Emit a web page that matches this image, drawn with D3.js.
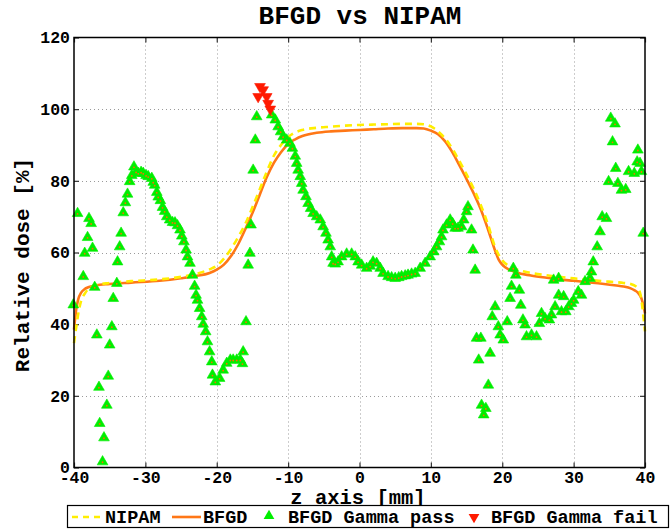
<!DOCTYPE html>
<html>
<head>
<meta charset="utf-8">
<script src="https://cdn.jsdelivr.net/npm/d3@7"></script>
<style>
  html, body { margin: 0; padding: 0; background: #fff; }
  svg { display: block; }
  text { font-family: "Courier New", "Liberation Mono", "DejaVu Sans Mono", monospace; font-weight: bold; fill: #000; }
</style>
</head>
<body>
<svg id="chart" width="672" height="530"></svg>
<script>
// NIPAM reference profile (dose in %)
const nipamZ = [-40, -39.7, -39.4, -39, -38.5, -38, -37, -35, -32, -28, -25, -23, -21, -20, -19, -18, -17, -16, -15, -14, -13, -12, -11, -10, -9, -8, -6, -4, -2, 0, 2, 4, 6, 8, 9, 10, 10.5, 11, 12, 13, 14, 15, 16, 17, 18, 19, 20, 21, 22, 24, 26, 28, 30, 32, 34, 36, 37, 38, 38.5, 39, 39.4, 39.7, 40];
const nipamDose = [34.7, 39, 43, 46.5, 48.5, 49.8, 50.8, 51.5, 52.0, 52.5, 53.2, 54.0, 55.3, 56.3, 58.3, 61.0, 64.3, 68.0, 72.6, 77.5, 82.5, 87.0, 90.0, 92.2, 93.5, 94.2, 94.8, 95.1, 95.4, 95.6, 95.7, 95.8, 95.9, 95.9, 95.8, 95.2, 94.6, 93.8, 91.8, 89.0, 85.5, 81.8, 77.8, 73.2, 67.8, 61.5, 57.8, 56.2, 55.3, 54.3, 53.7, 53.2, 52.8, 52.4, 52.0, 51.7, 51.5, 51.2, 50.8, 50.0, 48.0, 43.5, 38.0];

// BFGD measured profile (dose in %)
const bfgdZ = [-40, -39.7, -39.4, -39, -38.5, -38, -37, -35, -32, -28, -25, -23, -21, -20, -19, -18, -17, -16, -15, -14, -13, -12, -11, -10, -9, -8, -6, -4, -2, 0, 2, 4, 6, 8, 9, 10, 11, 12, 13, 14, 15, 16, 17, 18, 19, 19.5, 20, 21, 22, 24, 26, 28, 30, 32, 34, 36, 37, 38, 38.5, 39, 39.5, 39.8, 40];
const bfgdDose = [38.5, 44.0, 47.0, 48.8, 49.8, 50.3, 50.8, 51.2, 51.6, 52.1, 52.8, 53.4, 54.3, 55.2, 56.6, 59.0, 62.3, 66.5, 71.0, 76.0, 81.0, 85.0, 88.0, 90.3, 91.6, 92.5, 93.4, 93.8, 94.0, 94.2, 94.4, 94.6, 94.7, 94.7, 94.6, 94.0, 93.0, 91.0, 88.0, 84.3, 80.5, 76.5, 72.0, 66.5, 60.5, 58.0, 56.6, 55.2, 54.4, 53.6, 53.0, 52.5, 52.1, 51.7, 51.3, 50.8, 50.5, 50.0, 49.5, 48.8, 47.2, 45.0, 43.0];

// Gamma analysis: points that pass
const passZ = [-40.1, -39.5, -38.7, -38.5, -38.1, -37.9, -37.6, -37.4, -37.1, -36.8, -36.5, -36.4, -36.0, -35.8, -35.4, -35.2, -35.0, -34.7, -34.5, -34.0, -33.9, -33.6, -33.4, -33.1, -32.8, -32.5, -32.2, -31.9, -31.6, -31.3, -31.0, -30.6, -30.3, -29.9, -29.6, -29.1, -28.9, -28.7, -28.4, -28.2, -27.9, -27.6, -27.3, -27.0, -26.6, -26.2, -25.85, -25.5, -25.15, -24.9, -24.6, -24.3, -24.1, -23.75, -23.4, -23.1, -22.9, -22.7, -22.4, -22.1, -21.9, -21.55, -21.3, -21.0, -20.7, -20.6, -20.2, -19.6, -19.1, -18.6, -18.1, -17.7, -17.2, -16.7, -16.4, -16.3, -15.9, -15.6, -15.35, -15.2, -14.9, -14.6, -14.4, -12.3, -11.8, -11.4, -11.05, -10.7, -10.2, -9.75, -9.4, -9.0, -8.8, -8.6, -8.3, -8.1, -7.9, -7.5, -7.2, -6.85, -6.5, -6.0, -5.5, -5.1, -4.7, -4.4, -4.1, -3.9, -3.7, -3.4, -3.0, -2.5, -1.8, -1.1, -0.6, -0.2, 0.3, 1.0, 1.5, 1.9, 2.4, 2.9, 3.3, 4.0, 4.5, 5.0, 5.5, 5.9, 6.4, 6.8, 7.3, 7.8, 8.5, 9.2, 9.9, 10.4, 10.8, 11.2, 11.5, 11.7, 12.2, 12.7, 13.05, 13.4, 13.8, 14.3, 14.6, 15.0, 15.2, 15.7, 15.9, 16.2, 16.4, 17.0, 16.7, 18.3, 18.05, 17.1, 17.7, 17.4, 19.0, 18.6, 19.45, 19.7, 20.15, 20.7, 21.1, 21.55, 21.9, 21.3, 22.4, 22.6, 22.9, 23.2, 23.4, 24.1, 24.8, 25.2, 25.5, 26.0, 26.6, 26.9, 27.4, 27.9, 27.2, 27.9, 28.3, 28.6, 28.9, 29.3, 29.7, 30.0, 30.65, 31.1, 31.6, 32.3, 32.5, 32.75, 33.3, 33.7, 34.0, 34.6, 34.9, 35.2, 35.45, 35.8, 35.9, 36.2, 36.7, 37.3, 37.7, 38.5, 38.9, 39.0, 39.3, 39.5, 39.75];
const passDose = [45.4, 70.9, 53.3, 59.8, 64.2, 69.5, 68.1, 61.2, 50.3, 37.0, 22.4, 12.3, 1.6, 8.3, 17.4, 25.5, 34.2, 39.3, 47.2, 51.4, 57.4, 61.6, 65.4, 71.1, 73.9, 76.3, 79.8, 81.5, 83.9, 82.5, 82.1, 82.4, 82.1, 81.5, 81.2, 80.7, 79.6, 78.8, 76.8, 75.5, 74.5, 72.6, 71.5, 70.0, 69.1, 68.4, 68.3, 67.5, 66.3, 64.6, 63.0, 60.7, 58.8, 57.0, 53.7, 50.6, 48.1, 46.7, 44.4, 42.1, 40.0, 37.9, 35.1, 32.3, 29.5, 25.8, 23.9, 24.9, 27.2, 29.1, 30.0, 30.0, 30.0, 30.0, 29.0, 32.3, 40.7, 56.5, 59.8, 67.7, 83.0, 91.4, 97.9, 98.4, 97.0, 95.1, 93.7, 92.3, 91.4, 90.5, 89.1, 86.9, 84.9, 83.0, 81.2, 79.3, 77.4, 75.6, 73.7, 72.3, 70.9, 70.0, 69.1, 67.2, 65.4, 63.5, 61.6, 58.8, 57.0, 56.8, 57.4, 58.8, 59.6, 59.6, 58.8, 57.4, 56.5, 55.6, 56.2, 57.4, 57.0, 55.6, 54.2, 53.3, 53.0, 52.8, 53.0, 53.3, 53.5, 53.7, 54.0, 54.2, 55.6, 57.0, 58.8, 60.2, 61.6, 63.0, 64.4, 66.3, 67.7, 69.1, 68.1, 66.8, 66.8, 67.2, 69.1, 71.4, 72.8, 66.3, 60.7, 55.1, 36.1, 36.1, 30.0, 31.9, 23.0, 17.4, 16.5, 14.7, 44.9, 42.1, 39.3, 37.0, 35.6, 40.7, 47.2, 55.6, 53.7, 50.6, 49.5, 45.3, 41.2, 39.8, 36.5, 37.0, 36.5, 40.2, 43.0, 41.6, 41.2, 42.6, 44.9, 48.1, 52.3, 52.8, 43.5, 47.7, 43.5, 44.9, 45.8, 46.7, 49.1, 48.1, 51.9, 52.8, 54.6, 57.4, 61.6, 65.8, 70.0, 69.5, 79.8, 97.5, 90.9, 95.9, 83.5, 79.3, 77.4, 77.6, 82.6, 82.1, 85.3, 88.6, 84.9, 82.6, 65.4];

// Gamma analysis: points that fail
const failZ = [-13.94, -13.5, -14.2, -13.0, -12.8, -12.5];
const failDose = [106.3, 105.4, 103.5, 103.5, 101.6, 100.0];

// Axis ticks and legend entries
const xTicks = [-40, -30, -20, -10, 0, 10, 20, 30, 40];
const yTicks = [0, 20, 40, 60, 80, 100, 120];
const legendLabels = ["NIPAM", "BFGD", "BFGD Gamma pass", "BFGD Gamma fail"];

const colors = { nipam: "#ffee00", bfgd: "#ff7716", pass: "#00ee00", fail: "#ff1a00", dot: "#ff6a00" };

const svg = d3.select("#chart");
const plot = { left: 74, right: 645, top: 37.5, bottom: 467.5 };

const x = d3.scaleLinear().domain([-40, 40]).range([plot.left, plot.right]);
const y = d3.scaleLinear().domain([0, 120]).range([plot.bottom, plot.top]);

svg.append("rect").attr("width", 672).attr("height", 530).attr("fill", "#fff");

// Dotted grid
const grid = svg.append("g").attr("stroke", "#9a9a9a").attr("stroke-width", 1).attr("stroke-dasharray", "1,3");
grid.selectAll(".gx").data(xTicks.slice(1, -1)).join("line")
  .attr("x1", d => Math.round(x(d)) + 0.5).attr("x2", d => Math.round(x(d)) + 0.5)
  .attr("y1", plot.top).attr("y2", plot.bottom);
grid.selectAll(".gy").data(yTicks.slice(1, -1)).join("line")
  .attr("y1", d => Math.round(y(d)) + 0.5).attr("y2", d => Math.round(y(d)) + 0.5)
  .attr("x1", plot.left).attr("x2", plot.right);

// Axes with inward ticks on all four sides
const axisFont = 16.5;
const gxB = svg.append("g").attr("transform", `translate(0,${plot.bottom})`)
  .call(d3.axisBottom(x).tickValues(xTicks).tickSize(-5).tickPadding(4).tickFormat(d3.format("d")));
const gxT = svg.append("g").attr("transform", `translate(0,${plot.top})`)
  .call(d3.axisTop(x).tickValues(xTicks).tickSize(-5).tickFormat(""));
const gyL = svg.append("g").attr("transform", `translate(${plot.left},0)`)
  .call(d3.axisLeft(y).tickValues(yTicks).tickSize(-5).tickPadding(4).tickFormat(d3.format("d")));
const gyR = svg.append("g").attr("transform", `translate(${plot.right},0)`)
  .call(d3.axisRight(y).tickValues(yTicks).tickSize(-5).tickFormat(""));
[gxB, gxT, gyL, gyR].forEach(g => {
  g.select(".domain").remove();
  g.selectAll(".tick line").attr("stroke", "#333").attr("stroke-width", 1.2);
  g.selectAll("text").attr("font-size", axisFont).attr("font-family", null).attr("fill", "#000");
});
gxB.selectAll("text").text(d => d < 0 ? "-" + Math.abs(d) : d);

// Curve profiles
const lineGen = d3.line().curve(d3.curveMonotoneX);
const nipamPts = nipamZ.map((z, i) => [x(z), y(nipamDose[i])]);
const bfgdPts = bfgdZ.map((z, i) => [x(z), y(bfgdDose[i])]);

svg.append("path").attr("d", lineGen(bfgdPts))
  .attr("fill", "none").attr("stroke", colors.bfgd).attr("stroke-width", 2.6);
svg.append("path").attr("d", lineGen(nipamPts))
  .attr("fill", "none").attr("stroke", colors.nipam).attr("stroke-width", 2.6)
  .attr("stroke-dasharray", "7,5");

// Gamma markers
const triUp = d3.symbol().type(d3.symbolTriangle).size(50);
const passG = svg.append("g");
passZ.forEach((z, i) => {
  const px = x(z), py = y(passDose[i]);
  passG.append("path").attr("d", triUp()).attr("transform", `translate(${px},${py})`)
    .attr("fill", colors.pass).attr("stroke", colors.pass).attr("stroke-width", 0.6);
});
passZ.forEach((z, i) => {
  passG.append("circle").attr("cx", x(z)).attr("cy", y(passDose[i]) + 0.5).attr("r", 0.9).attr("fill", colors.dot);
});
const failG = svg.append("g");
failZ.forEach((z, i) => {
  failG.append("path").attr("d", triUp())
    .attr("transform", `translate(${x(z)},${y(failDose[i])}) rotate(180)`)
    .attr("fill", colors.fail).attr("stroke", colors.fail).attr("stroke-width", 0.6);
});

// Plot frame
svg.append("rect").attr("x", plot.left).attr("y", plot.top)
  .attr("width", plot.right - plot.left).attr("height", plot.bottom - plot.top)
  .attr("fill", "none").attr("stroke", "#000").attr("stroke-width", 1.5);

// Titles
svg.append("text").attr("x", 360).attr("y", 24).attr("text-anchor", "middle")
  .attr("font-size", 26).text("BFGD vs NIPAM");
svg.append("text").attr("x", 358).attr("y", 504).attr("text-anchor", "middle")
  .attr("font-size", 20.5).text("z axis [mm]");
svg.append("text").attr("transform", "translate(29,265) rotate(-90)").attr("text-anchor", "middle")
  .attr("font-size", 21).text("Relative dose [%]");

// Legend
const leg = svg.append("g");
leg.append("rect").attr("x", 67.5).attr("y", 505.5).attr("width", 601).attr("height", 22)
  .attr("fill", "#fff").attr("stroke", "#000").attr("stroke-width", 1.2);
const ly = 517;
leg.append("line").attr("x1", 72).attr("x2", 103).attr("y1", ly).attr("y2", ly)
  .attr("stroke", colors.nipam).attr("stroke-width", 2.6).attr("stroke-dasharray", "6,5");
leg.append("line").attr("x1", 172).attr("x2", 201).attr("y1", ly).attr("y2", ly)
  .attr("stroke", colors.bfgd).attr("stroke-width", 2.6);
leg.append("path").attr("d", triUp()).attr("transform", `translate(269,${ly - 1})`).attr("fill", colors.pass);
leg.append("path").attr("d", triUp()).attr("transform", `translate(474,${ly})rotate(180)`).attr("fill", colors.fail);
const legX = [105, 203, 288, 491];
leg.selectAll("text.lab").data(legendLabels).join("text")
  .attr("x", (d, i) => legX[i]).attr("y", 523).attr("font-size", 18.5).text(d => d);
</script>
</body>
</html>
